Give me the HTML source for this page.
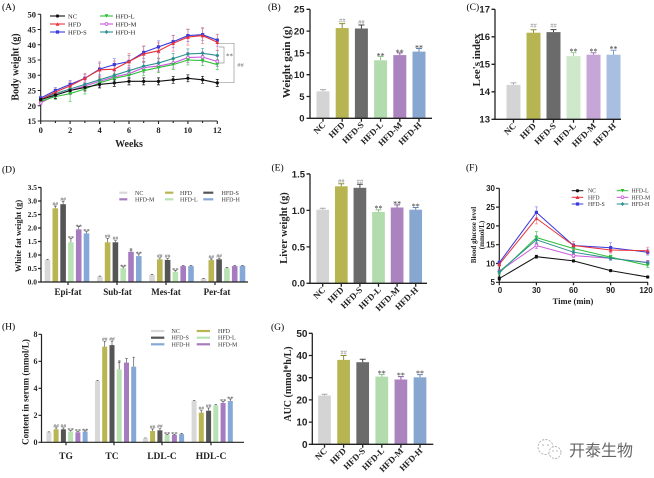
<!DOCTYPE html>
<html><head><meta charset="utf-8">
<style>
html,body{margin:0;padding:0;background:#fff;}
svg{display:block;}
.s{font-family:"Liberation Serif",serif;}
.sb{font-family:"Liberation Serif",serif;font-weight:bold;}
.ab{font-family:"Liberation Sans",sans-serif;font-weight:bold;}
</style></head>
<body>
<svg width="654" height="478" viewBox="0 0 654 478" xmlns="http://www.w3.org/2000/svg">
<defs>
<marker id="mNC" viewBox="0 0 10 10" refX="5" refY="5" markerWidth="3.6" markerHeight="3.6" markerUnits="userSpaceOnUse"><circle cx="5" cy="5" r="4.5" fill="#111"/></marker>
<marker id="mHFD" viewBox="0 0 10 10" refX="5" refY="5" markerWidth="4" markerHeight="4" markerUnits="userSpaceOnUse"><polygon points="5,0.5 9.8,9.3 0.2,9.3" fill="#e8323c"/></marker>
<marker id="mS" viewBox="0 0 10 10" refX="5" refY="5" markerWidth="3.6" markerHeight="3.6" markerUnits="userSpaceOnUse"><rect x="0.5" y="0.5" width="9" height="9" fill="#3b3bdc"/></marker>
<marker id="mL" viewBox="0 0 10 10" refX="5" refY="5" markerWidth="4" markerHeight="4" markerUnits="userSpaceOnUse"><polygon points="0.2,0.7 9.8,0.7 5,9.5" fill="#2fbf3a"/></marker>
<marker id="mM" viewBox="0 0 10 10" refX="5" refY="5" markerWidth="4" markerHeight="4" markerUnits="userSpaceOnUse"><circle cx="5" cy="5" r="3.6" fill="#fff" stroke="#cc55dd" stroke-width="2.2"/></marker>
<marker id="mH" viewBox="0 0 10 10" refX="5" refY="5" markerWidth="4" markerHeight="4" markerUnits="userSpaceOnUse"><polygon points="5,0 10,5 5,10 0,5" fill="#2a8f8f"/></marker>
</defs>

<!-- ================= PANEL A ================= -->
<text class="s" x="2" y="10" font-size="9.5">(A)</text>
<g stroke="#222" stroke-width="1.1" fill="none">
<path d="M40.7,14.3V121H217.3"/>
<path d="M37.7,14.25h3M37.7,29.5h3M37.7,44.75h3M37.7,60h3M37.7,75.25h3M37.7,90.5h3M37.7,105.75h3M37.7,121h3"/>
<path d="M40.7,121v3M55.4,121v2M70.1,121v3M84.9,121v2M99.6,121v3M114.3,121v2M129,121v3M143.7,121v2M158.5,121v3M173.2,121v2M187.9,121v3M202.6,121v2M217.3,121v3"/>
</g>
<g class="sb" font-size="8.5" text-anchor="end" fill="#222">
<text x="36" y="17.4">50</text><text x="36" y="32.7">45</text><text x="36" y="47.9">40</text><text x="36" y="63.2">35</text><text x="36" y="78.4">30</text><text x="36" y="93.7">25</text><text x="36" y="108.9">20</text><text x="36" y="124.2">15</text>
</g>
<g class="sb" font-size="8.5" text-anchor="middle" fill="#222">
<text x="40.7" y="133">0</text><text x="70.1" y="133">2</text><text x="99.6" y="133">4</text><text x="129" y="133">6</text><text x="158.5" y="133">8</text><text x="187.9" y="133">10</text><text x="217.3" y="133">12</text>
</g>
<text class="sb" x="129" y="147" font-size="10" text-anchor="middle" fill="#222">Weeks</text>
<text class="sb" font-size="10" text-anchor="middle" fill="#222" transform="translate(18.5,67) rotate(-90)">Body weight (g)</text>

<g fill="none" stroke-width="0.7">
<path stroke="#cc55dd" opacity="0.8" d="M39.2,100.7h3m-1.5,0V104.7m-1.5,0h3 M53.9,92.1h3m-1.5,0V98.1m-1.5,0h3 M68.6,86.5h3m-1.5,0V94.5m-1.5,0h3 M83.4,80.9h3m-1.5,0V90.9m-1.5,0h3 M98.1,76.35h3m-1.5,0V86.35m-1.5,0h3 M112.8,71.8h3m-1.5,0V81.8m-1.5,0h3 M127.5,68.7h3m-1.5,0V78.7m-1.5,0h3 M142.2,62.6h3m-1.5,0V72.6m-1.5,0h3 M157,61.1h3m-1.5,0V71.1m-1.5,0h3 M171.7,58.05h3m-1.5,0V68.05m-1.5,0h3 M186.4,52.6h3m-1.5,0V62.6m-1.5,0h3 M201.1,52h3m-1.5,0V62m-1.5,0h3 M215.8,56.5h3m-1.5,0V66.5m-1.5,0h3"/>
<path stroke="#2fbf3a" opacity="0.8" d="M39.2,99.2h3m-1.5,0V103.2m-1.5,0h3 M53.9,93.6h3m-1.5,0V99.6m-1.5,0h3 M68.6,85.55h3m-1.5,0V101.55m-1.5,0h3 M83.4,84h3m-1.5,0V94m-1.5,0h3 M98.1,77.9h3m-1.5,0V87.9m-1.5,0h3 M112.8,73.3h3m-1.5,0V83.3m-1.5,0h3 M127.5,70.25h3m-1.5,0V80.25m-1.5,0h3 M142.2,65.7h3m-1.5,0V75.7m-1.5,0h3 M157,62.6h3m-1.5,0V72.6m-1.5,0h3 M171.7,59.6h3m-1.5,0V69.6m-1.5,0h3 M186.4,55h3m-1.5,0V65m-1.5,0h3 M201.1,55.6h3m-1.5,0V65.6m-1.5,0h3 M215.8,59.6h3m-1.5,0V69.6m-1.5,0h3"/>
<path stroke="#2a8f8f" opacity="0.8" d="M39.2,97.65h3m-1.5,0V101.65m-1.5,0h3 M53.9,90.55h3m-1.5,0V96.55m-1.5,0h3 M68.6,85h3m-1.5,0V93m-1.5,0h3 M83.4,79.4h3m-1.5,0V89.4m-1.5,0h3 M98.1,74.8h3m-1.5,0V84.8m-1.5,0h3 M112.8,70.25h3m-1.5,0V80.25m-1.5,0h3 M127.5,65.7h3m-1.5,0V75.7m-1.5,0h3 M142.2,61.1h3m-1.5,0V71.1m-1.5,0h3 M157,58.05h3m-1.5,0V68.05m-1.5,0h3 M171.7,53.5h3m-1.5,0V63.5m-1.5,0h3 M186.4,48.9h3m-1.5,0V58.9m-1.5,0h3 M201.1,48.3h3m-1.5,0V58.3m-1.5,0h3 M215.8,50.4h3m-1.5,0V60.4m-1.5,0h3"/>
<path stroke="#7070f0" opacity="0.8" d="M39.2,96.1h3m-1.5,0V100.1m-1.5,0h3 M53.9,87.5h3m-1.5,0V93.5m-1.5,0h3 M68.6,80.4h3m-1.5,0V88.4m-1.5,0h3 M83.4,74.3h3m-1.5,0V82.3m-1.5,0h3 M98.1,63.15h3m-1.5,0V75.15m-1.5,0h3 M112.8,58.6h3m-1.5,0V70.6m-1.5,0h3 M127.5,55.5h3m-1.5,0V67.5m-1.5,0h3 M142.2,46.4h3m-1.5,0V58.4m-1.5,0h3 M157,40.9h3m-1.5,0V52.9m-1.5,0h3 M171.7,35.7h3m-1.5,0V47.7m-1.5,0h3 M186.4,29.6h3m-1.5,0V41.6m-1.5,0h3 M201.1,28.7h3m-1.5,0V40.7m-1.5,0h3 M215.8,34.2h3m-1.5,0V46.2m-1.5,0h3"/>
<path stroke="#ea6a70" opacity="0.8" d="M39.2,97.65h3m-1.5,0V101.65m-1.5,0h3 M53.9,89h3m-1.5,0V95m-1.5,0h3 M68.6,81.9h3m-1.5,0V89.9m-1.5,0h3 M83.4,73.3h3m-1.5,0V83.3m-1.5,0h3 M98.1,61.8h3m-1.5,0V77.8m-1.5,0h3 M112.8,61.15h3m-1.5,0V77.15m-1.5,0h3 M127.5,53.5h3m-1.5,0V69.5m-1.5,0h3 M142.2,45.9h3m-1.5,0V61.9m-1.5,0h3 M157,42.85h3m-1.5,0V58.85m-1.5,0h3 M171.7,35.2h3m-1.5,0V51.2m-1.5,0h3 M186.4,29.1h3m-1.5,0V45.1m-1.5,0h3 M201.1,27.6h3m-1.5,0V43.6m-1.5,0h3 M215.8,34.3h3m-1.5,0V50.3m-1.5,0h3"/>
<path stroke="#111" d="M39.2,97.65h3m-1.5,0V101.65m-1.5,0h3 M53.9,91.6h3m-1.5,0V98.6m-1.5,0h3 M68.6,87h3m-1.5,0V94m-1.5,0h3 M83.4,83.95h3m-1.5,0V90.95m-1.5,0h3 M98.1,80.9h3m-1.5,0V87.9m-1.5,0h3 M112.8,79.4h3m-1.5,0V86.4m-1.5,0h3 M127.5,77.85h3m-1.5,0V84.85m-1.5,0h3 M142.2,77.85h3m-1.5,0V84.85m-1.5,0h3 M157,77.85h3m-1.5,0V84.85m-1.5,0h3 M171.7,76.3h3m-1.5,0V83.3m-1.5,0h3 M186.4,74.8h3m-1.5,0V81.8m-1.5,0h3 M201.1,76.3h3m-1.5,0V83.3m-1.5,0h3 M215.8,79.4h3m-1.5,0V86.4m-1.5,0h3"/>
</g>
<g fill="none" stroke-width="1.1">
<polyline stroke="#cc55dd" marker-start="url(#mM)" marker-mid="url(#mM)" marker-end="url(#mM)" points="40.7,102.7 55.4,95.1 70.1,90.5 84.9,85.9 99.6,81.35 114.3,76.8 129,73.7 143.7,67.6 158.5,66.1 173.2,63.05 187.9,57.6 202.6,57 217.3,61.5"/>
<polyline stroke="#2fbf3a" marker-start="url(#mL)" marker-mid="url(#mL)" marker-end="url(#mL)" points="40.7,101.2 55.4,96.6 70.1,93.55 84.9,89 99.6,82.9 114.3,78.3 129,75.25 143.7,70.7 158.5,67.6 173.2,64.6 187.9,60 202.6,60.6 217.3,64.6"/>
<polyline stroke="#2a8f8f" marker-start="url(#mH)" marker-mid="url(#mH)" marker-end="url(#mH)" points="40.7,99.65 55.4,93.55 70.1,89 84.9,84.4 99.6,79.8 114.3,75.25 129,70.7 143.7,66.1 158.5,63.05 173.2,58.5 187.9,53.9 202.6,53.3 217.3,55.4"/>
<polyline stroke="#3b3bdc" marker-start="url(#mS)" marker-mid="url(#mS)" marker-end="url(#mS)" points="40.7,98.1 55.4,90.5 70.1,84.4 84.9,78.3 99.6,69.15 114.3,64.6 129,61.5 143.7,52.4 158.5,46.9 173.2,41.7 187.9,35.6 202.6,34.7 217.3,40.2"/>
<polyline stroke="#e8323c" marker-start="url(#mHFD)" marker-mid="url(#mHFD)" marker-end="url(#mHFD)" points="40.7,99.65 55.4,92 70.1,85.9 84.9,78.3 99.6,69.8 114.3,69.15 129,61.5 143.7,53.9 158.5,50.85 173.2,43.2 187.9,37.1 202.6,35.6 217.3,42.3"/>
<polyline stroke="#111" marker-start="url(#mNC)" marker-mid="url(#mNC)" marker-end="url(#mNC)" points="40.7,99.65 55.4,95.1 70.1,90.5 84.9,87.45 99.6,84.4 114.3,82.9 129,81.35 143.7,81.35 158.5,81.35 173.2,79.8 187.9,78.3 202.6,79.8 217.3,82.9"/>
</g>
<g fill="none" stroke="#999" stroke-width="0.7">
<path d="M219,43.3H234V82.7H219"/>
<path d="M219,47H224V63H219"/>
</g>
<text class="s" x="229.5" y="58.5" font-size="7" fill="#555" text-anchor="middle">**</text>
<text class="s" x="240.5" y="67" font-size="6.5" fill="#777" text-anchor="middle">##</text>
<g fill="none" stroke-width="1.1">
<polyline stroke="#111" marker-mid="url(#mNC)" points="50,16 57.5,16 65,16"/>
<polyline stroke="#e8323c" marker-mid="url(#mHFD)" points="50,24 57.5,24 65,24"/>
<polyline stroke="#3b3bdc" marker-mid="url(#mS)" points="50,32 57.5,32 65,32"/>
<polyline stroke="#2fbf3a" marker-mid="url(#mL)" points="100,16 106.5,16 113,16"/>
<polyline stroke="#cc55dd" marker-mid="url(#mM)" points="100,24 106.5,24 113,24"/>
<polyline stroke="#2a8f8f" marker-mid="url(#mH)" points="100,32 106.5,32 113,32"/>
</g>
<g class="s" font-size="6.5" fill="#222">
<text x="68" y="18.3">NC</text><text x="68" y="26.3">HFD</text><text x="68" y="34.3">HFD-S</text>
<text x="115.5" y="18.3">HFD-L</text><text x="115.5" y="26.3">HFD-M</text><text x="115.5" y="34.3">HFD-H</text>
</g>

<!-- ================= PANEL B ================= -->
<text class="s" x="268" y="10" font-size="9.5">(B)</text>
<g>
<rect x="316.5" y="91.3" width="13" height="27" fill="#d4d4d4"/>
<rect x="335.7" y="28.05" width="13" height="90.25" fill="#b7b552"/>
<rect x="354.9" y="28.5" width="13" height="89.8" fill="#6b6b6b"/>
<rect x="374.1" y="60.3" width="13" height="58" fill="#b2dcae"/>
<rect x="393.3" y="55.1" width="13" height="63.2" fill="#aa83bf"/>
<rect x="412.5" y="51.6" width="13" height="66.7" fill="#88a7d0"/>
</g>
<g fill="none" stroke-width="1">
<path stroke="#aaa" d="M323,91.3V89.6m-3,0h6"/>
<path stroke="#8f8d30" d="M342.2,28.05V23.65m-3,0h6"/>
<path stroke="#444" d="M361.4,28.5V25m-3,0h6"/>
<path stroke="#8cbf88" d="M380.6,60.3V56.4m-3,0h6"/>
<path stroke="#8a62a0" d="M399.8,55.1V52.9m-3,0h6"/>
<path stroke="#6688b8" d="M419,51.6V48.5m-3,0h6"/>
</g>
<g stroke="#222" stroke-width="1.3" fill="none">
<path d="M310,9.3V118.3H432"/>
<path d="M306.5,9.3h3.5M306.5,31.1h3.5M306.5,52.9h3.5M306.5,74.7h3.5M306.5,96.5h3.5M306.5,118.3h3.5"/>
<path d="M323,118.3v3.5M342.2,118.3v3.5M361.4,118.3v3.5M380.6,118.3v3.5M399.8,118.3v3.5M419,118.3v3.5"/>
</g>
<g class="ab" font-size="9.5" text-anchor="end" fill="#222">
<text x="304.5" y="12.7">25</text><text x="304.5" y="34.5">20</text><text x="304.5" y="56.3">15</text><text x="304.5" y="78.1">10</text><text x="304.5" y="99.9">5</text><text x="304.5" y="121.7">0</text>
</g>
<text class="sb" font-size="11" text-anchor="middle" fill="#222" transform="translate(290,62) rotate(-90)">Weight gain (g)</text>
<g class="sb" font-size="8.8" text-anchor="end" fill="#222">
<text transform="translate(326,125.5) rotate(-45)">NC</text>
<text transform="translate(345.2,125.5) rotate(-45)">HFD</text>
<text transform="translate(364.4,125.5) rotate(-45)">HFD-S</text>
<text transform="translate(383.6,125.5) rotate(-45)">HFD-L</text>
<text transform="translate(402.8,125.5) rotate(-45)">HFD-M</text>
<text transform="translate(422,125.5) rotate(-45)">HFD-H</text>
</g>
<g class="s" text-anchor="middle">
<text x="342.2" y="22.5" font-size="6.5" fill="#888">##</text>
<text x="361.4" y="24" font-size="6.5" fill="#888">##</text>
<text x="380.6" y="58.5" font-size="8" fill="#333">**</text>
<text x="399.8" y="55" font-size="8" fill="#333">**</text>
<text x="419" y="50.6" font-size="8" fill="#333">**</text>
</g>

<!-- ================= PANEL C ================= -->
<text class="s" x="466.5" y="10" font-size="9.5">(C)</text>
<g>
<rect x="506.5" y="84.9" width="14" height="34.4" fill="#d4d4d4"/>
<rect x="526.5" y="32.7" width="14" height="86.6" fill="#b7b552"/>
<rect x="546.5" y="32.1" width="14" height="87.2" fill="#6b6b6b"/>
<rect x="566.5" y="56.1" width="14" height="63.2" fill="#cfe8cc"/>
<rect x="586.5" y="54.7" width="14" height="64.6" fill="#c5a6d6"/>
<rect x="606.5" y="54.7" width="14" height="64.6" fill="#a8bfe2"/>
</g>
<g fill="none" stroke-width="1">
<path stroke="#aaa" d="M513.5,84.9V82.9m-3,0h6"/>
<path stroke="#8f8d30" d="M533.5,32.7V29.7m-3,0h6"/>
<path stroke="#444" d="M553.5,32.1V29.6m-3,0h6"/>
<path stroke="#9ccc98" d="M573.5,56.1V52.6m-3,0h6"/>
<path stroke="#a07cb5" d="M593.5,54.7V52.7m-3,0h6"/>
<path stroke="#7d9bcb" d="M613.5,54.7V50.2m-3,0h6"/>
</g>
<g stroke="#222" stroke-width="1.3" fill="none">
<path d="M495,9.3V119.3H621"/>
<path d="M491.5,9.3h3.5M491.5,36.8h3.5M491.5,64.3h3.5M491.5,91.8h3.5M491.5,119.3h3.5"/>
<path d="M513.5,119.3v3.5M533.5,119.3v3.5M553.5,119.3v3.5M573.5,119.3v3.5M593.5,119.3v3.5M613.5,119.3v3.5"/>
</g>
<g class="ab" font-size="9.5" text-anchor="end" fill="#222">
<text x="490" y="12.7">17</text><text x="490" y="40.2">16</text><text x="490" y="67.7">15</text><text x="490" y="95.2">14</text><text x="490" y="122.7">13</text>
</g>
<text class="sb" font-size="11" text-anchor="middle" fill="#222" transform="translate(480,60) rotate(-90)">Lee's index</text>
<g class="sb" font-size="8.8" text-anchor="end" fill="#222">
<text transform="translate(516.5,126.5) rotate(-45)">NC</text>
<text transform="translate(536.5,126.5) rotate(-45)">HFD</text>
<text transform="translate(556.5,126.5) rotate(-45)">HFD-S</text>
<text transform="translate(576.5,126.5) rotate(-45)">HFD-L</text>
<text transform="translate(596.5,126.5) rotate(-45)">HFD-M</text>
<text transform="translate(616.5,126.5) rotate(-45)">HFD-H</text>
</g>
<g class="s" text-anchor="middle">
<text x="533.5" y="27.5" font-size="6.5" fill="#888">##</text>
<text x="553.5" y="27.3" font-size="6.5" fill="#888">##</text>
<text x="573.5" y="54" font-size="8" fill="#333">**</text>
<text x="593.5" y="54" font-size="8" fill="#333">**</text>
<text x="613.5" y="51.6" font-size="8" fill="#333">**</text>
</g>

<!-- ================= PANEL D ================= -->
<text class="s" x="2" y="172.5" font-size="9.5">(D)</text>
<g>
<rect x="44.7" y="260.1" width="5.6" height="21.9" fill="#d8d8d8"/>
<rect x="52.5" y="208.3" width="5.6" height="73.7" fill="#b8b552"/>
<rect x="60.3" y="204.2" width="5.6" height="77.8" fill="#555"/>
<rect x="68.1" y="242.3" width="5.6" height="39.7" fill="#b9e2b4"/>
<rect x="75.9" y="229.35" width="5.6" height="52.65" fill="#a67bc0"/>
<rect x="83.7" y="233.4" width="5.6" height="48.6" fill="#86a8d6"/>
<rect x="97" y="276.6" width="5.6" height="5.4" fill="#d8d8d8"/>
<rect x="104.8" y="242.3" width="5.6" height="39.7" fill="#b8b552"/>
<rect x="112.6" y="242.3" width="5.6" height="39.7" fill="#555"/>
<rect x="120.4" y="268.2" width="5.6" height="13.8" fill="#b9e2b4"/>
<rect x="128.2" y="251.8" width="5.6" height="30.2" fill="#a67bc0"/>
<rect x="136" y="256.1" width="5.6" height="25.9" fill="#86a8d6"/>
<rect x="149.2" y="275" width="5.6" height="7" fill="#d8d8d8"/>
<rect x="157" y="259.3" width="5.6" height="22.7" fill="#b8b552"/>
<rect x="164.8" y="259.9" width="5.6" height="22.1" fill="#555"/>
<rect x="172.6" y="271.7" width="5.6" height="10.3" fill="#b9e2b4"/>
<rect x="180.4" y="266.1" width="5.6" height="15.9" fill="#a67bc0"/>
<rect x="188.2" y="266.1" width="5.6" height="15.9" fill="#86a8d6"/>
<rect x="200.7" y="278.8" width="5.6" height="3.2" fill="#d8d8d8"/>
<rect x="208.5" y="260.1" width="5.6" height="21.9" fill="#b8b552"/>
<rect x="216.3" y="259.3" width="5.6" height="22.7" fill="#555"/>
<rect x="224.1" y="268.2" width="5.6" height="13.8" fill="#b9e2b4"/>
<rect x="231.9" y="266.1" width="5.6" height="15.9" fill="#a67bc0"/>
<rect x="239.7" y="265.8" width="5.6" height="16.2" fill="#86a8d6"/>
</g>
<path fill="none" stroke="#555" stroke-width="0.7" d="M47.5,260.1V259.3m-1.3,0h2.6 M55.3,208.3V206.1m-1.3,0h2.6 M63.1,204.2V201.5m-1.3,0h2.6 M70.9,242.3V238.3m-1.3,0h2.6 M78.7,229.35V226.65m-1.3,0h2.6 M86.5,233.4V231.2m-1.3,0h2.6 M99.8,276.6V276.1m-1.3,0h2.6 M107.6,242.3V238.3m-1.3,0h2.6 M115.4,242.3V240.7m-1.3,0h2.6 M123.2,268.2V266.85m-1.3,0h2.6 M131,251.8V250.2m-1.3,0h2.6 M138.8,256.1V253.9m-1.3,0h2.6 M152,275V274.5m-1.3,0h2.6 M159.8,259.3V257.95m-1.3,0h2.6 M167.6,259.9V258.55m-1.3,0h2.6 M175.4,271.7V270.35m-1.3,0h2.6 M183.2,266.1V265.6m-1.3,0h2.6 M191,266.1V265.6m-1.3,0h2.6 M203.5,278.8V278.5m-1.3,0h2.6 M211.3,260.1V259m-1.3,0h2.6 M219.1,259.3V258.2m-1.3,0h2.6 M226.9,268.2V267.4m-1.3,0h2.6 M234.7,266.1V265.6m-1.3,0h2.6 M242.5,265.8V265.3m-1.3,0h2.6"/>
<g stroke="#222" stroke-width="1.2" fill="none">
<path d="M41,187.3V282H248"/>
<path d="M38,282h3M38,268.5h3M38,255h3M38,241.5h3M38,228h3M38,214.5h3M38,201h3M38,187.5h3"/>
<path d="M68,282v3M117,282v3M166,282v3M215,282v3"/>
</g>
<g class="sb" font-size="7.5" text-anchor="end" fill="#222">
<text x="37" y="284.6">0.0</text><text x="37" y="271.1">0.5</text><text x="37" y="257.6">1.0</text><text x="37" y="244.1">1.5</text><text x="37" y="230.6">2.0</text><text x="37" y="217.1">2.5</text><text x="37" y="203.6">3.0</text><text x="37" y="190.1">3.5</text>
</g>
<text class="sb" font-size="8.5" text-anchor="middle" fill="#222" transform="translate(21,236) rotate(-90)">White fat weight (g)</text>
<g class="sb" font-size="9" text-anchor="middle" fill="#222">
<text x="68" y="295">Epi-fat</text><text x="117.5" y="295">Sub-fat</text><text x="166" y="295">Mes-fat</text><text x="217" y="295">Per-fat</text>
</g>
<g class="s" text-anchor="middle" fill="#444">
<text x="55.3" y="205.5" font-size="5.5">##</text><text x="63.1" y="201" font-size="5.5">##</text>
<text x="70.9" y="240" font-size="6.5">**</text><text x="78.7" y="228.3" font-size="6.5">**</text><text x="86.5" y="232.8" font-size="6.5">**</text>
<text x="107.6" y="237.8" font-size="5.5">##</text><text x="115.4" y="240.2" font-size="5.5">##</text>
<text x="123.2" y="268.5" font-size="6.5">**</text><text x="131" y="251.8" font-size="6.5">*</text><text x="138.8" y="255.5" font-size="6.5">**</text>
<text x="159.8" y="257.5" font-size="5.5">##</text><text x="167.6" y="258" font-size="5.5">##</text>
<text x="175.4" y="272" font-size="6.5">**</text>
<text x="211.3" y="258.5" font-size="5.5">##</text><text x="219.1" y="257.7" font-size="5.5">##</text>
</g>
<g stroke-width="2.2">
<line x1="119.3" y1="192.7" x2="127.3" y2="192.7" stroke="#d8d8d8"/>
<line x1="165" y1="192.7" x2="173.3" y2="192.7" stroke="#b8b552"/>
<line x1="203.3" y1="192.7" x2="213.3" y2="192.7" stroke="#555"/>
<line x1="119.3" y1="199.3" x2="127.3" y2="199.3" stroke="#a67bc0"/>
<line x1="165" y1="199.3" x2="173.3" y2="199.3" stroke="#b9e2b4"/>
<line x1="203.3" y1="199.3" x2="213.3" y2="199.3" stroke="#86a8d6"/>
</g>
<g class="s" font-size="6" fill="#333">
<text x="135" y="194.8">NC</text><text x="180" y="194.8">HFD</text><text x="221.5" y="194.8">HFD-S</text>
<text x="135" y="201.4">HFD-M</text><text x="180" y="201.4">HFD-L</text><text x="221.5" y="201.4">HFD-H</text>
</g>

<!-- ================= PANEL E ================= -->
<text class="s" x="271.5" y="170.5" font-size="9.5">(E)</text>
<g>
<rect x="316.35" y="209.7" width="12.7" height="73.6" fill="#d4d4d4"/>
<rect x="334.95" y="186.3" width="12.7" height="97" fill="#b7b552"/>
<rect x="353.55" y="187.8" width="12.7" height="95.5" fill="#6b6b6b"/>
<rect x="372.15" y="211.9" width="12.7" height="71.4" fill="#b2dcae"/>
<rect x="390.75" y="207.5" width="12.7" height="75.8" fill="#aa83bf"/>
<rect x="409.35" y="209.7" width="12.7" height="73.6" fill="#88a7d0"/>
</g>
<g fill="none" stroke-width="1">
<path stroke="#aaa" d="M322.7,209.7V208.2m-3,0h6"/>
<path stroke="#8f8d30" d="M341.3,186.3V183.8m-3,0h6"/>
<path stroke="#444" d="M359.9,187.8V184.2m-3,0h6"/>
<path stroke="#8cbf88" d="M378.5,211.9V209.7m-3,0h6"/>
<path stroke="#8a62a0" d="M397.1,207.5V204.9m-3,0h6"/>
<path stroke="#6688b8" d="M415.7,209.7V207.5m-3,0h6"/>
</g>
<g stroke="#222" stroke-width="1.3" fill="none">
<path d="M310,173.95V283.3H427"/>
<path d="M306.5,173.95h3.5M306.5,210.4h3.5M306.5,246.85h3.5M306.5,283.3h3.5"/>
<path d="M322.7,283.3v3.5M341.3,283.3v3.5M359.9,283.3v3.5M378.5,283.3v3.5M397.1,283.3v3.5M415.7,283.3v3.5"/>
</g>
<g class="ab" font-size="9.5" text-anchor="end" fill="#222">
<text x="305" y="177.35">1.5</text><text x="305" y="213.8">1.0</text><text x="305" y="250.25">0.5</text><text x="305" y="286.7">0.0</text>
</g>
<text class="sb" font-size="10.5" text-anchor="middle" fill="#222" transform="translate(287,228) rotate(-90)">Liver weight (g)</text>
<g class="sb" font-size="8.8" text-anchor="end" fill="#222">
<text transform="translate(325.7,290.5) rotate(-45)">NC</text>
<text transform="translate(344.3,290.5) rotate(-45)">HFD</text>
<text transform="translate(362.9,290.5) rotate(-45)">HFD-S</text>
<text transform="translate(381.5,290.5) rotate(-45)">HFD-L</text>
<text transform="translate(400.1,290.5) rotate(-45)">HFD-M</text>
<text transform="translate(418.7,290.5) rotate(-45)">HFD-H</text>
</g>
<g class="s" text-anchor="middle">
<text x="341.3" y="183" font-size="6.5" fill="#888">##</text>
<text x="359.9" y="183.5" font-size="6.5" fill="#888">##</text>
<text x="378.5" y="211" font-size="8" fill="#333">**</text>
<text x="397.1" y="206.3" font-size="8" fill="#333">**</text>
<text x="415.7" y="208.8" font-size="8" fill="#333">**</text>
</g>

<!-- ================= PANEL F ================= -->
<text class="s" x="466" y="170.5" font-size="9.5">(F)</text>
<g stroke="#222" stroke-width="1.2" fill="none">
<path d="M499.3,188.3V282.3H648"/>
<path d="M496,188.3h3.3M496,207.1h3.3M496,225.9h3.3M496,244.7h3.3M496,263.5h3.3M496,282.3h3.3"/>
<path d="M499.3,282.3v3M536.4,282.3v3M573.5,282.3v3M610.6,282.3v3M647.7,282.3v3"/>
</g>
<g class="ab" font-size="8" text-anchor="end" fill="#222">
<text x="495" y="191.2">30</text><text x="495" y="210">25</text><text x="495" y="228.8">20</text><text x="495" y="247.6">15</text><text x="495" y="266.4">10</text><text x="495" y="285.2">5</text>
</g>
<g class="ab" font-size="8" text-anchor="middle" fill="#222">
<text x="500" y="293">0</text><text x="536.4" y="293">30</text><text x="573.5" y="293">60</text><text x="610.6" y="293">90</text><text x="646" y="293">120</text>
</g>
<text class="sb" x="573" y="304" font-size="8.5" text-anchor="middle" fill="#222">Time (min)</text>
<text class="sb" font-size="7" text-anchor="middle" fill="#222" transform="translate(476,235) rotate(-90)">Blood glucose level</text>
<text class="sb" font-size="7" text-anchor="middle" fill="#222" transform="translate(484,235) rotate(-90)">(mmol/L)</text>
<g fill="none" stroke-width="0.7">
<path stroke="#cc55dd" opacity="0.8" d="M497.8,269.4h3m-1.5,0V273.4m-1.5,0h3 M534.9,242.5h3m-1.5,0V248.5m-1.5,0h3 M572,253.6h3m-1.5,0V257.6m-1.5,0h3 M609.1,256.2h3m-1.5,0V260.2m-1.5,0h3 M646.2,260.4h3m-1.5,0V264.4m-1.5,0h3"/>
<path stroke="#2fbf3a" opacity="0.8" d="M497.8,270.9h3m-1.5,0V274.9m-1.5,0h3 M534.9,231.6h3m-1.5,0V243.6m-1.5,0h3 M572,246.5h3m-1.5,0V250.5m-1.5,0h3 M609.1,255.1h3m-1.5,0V259.1m-1.5,0h3 M646.2,263.4h3m-1.5,0V267.4m-1.5,0h3"/>
<path stroke="#2a8f8f" opacity="0.8" d="M497.8,269.8h3m-1.5,0V273.8m-1.5,0h3 M534.9,235.8h3m-1.5,0V243.8m-1.5,0h3 M572,250.2h3m-1.5,0V254.2m-1.5,0h3 M609.1,256.2h3m-1.5,0V260.2m-1.5,0h3 M646.2,260.7h3m-1.5,0V264.7m-1.5,0h3"/>
<path stroke="#7070f0" opacity="0.8" d="M497.8,260.7h3m-1.5,0V264.7m-1.5,0h3 M534.9,206.9h3m-1.5,0V217.9m-1.5,0h3 M572,243.5h3m-1.5,0V247.5m-1.5,0h3 M609.1,242.7h3m-1.5,0V252.7m-1.5,0h3 M646.2,249.2h3m-1.5,0V255.2m-1.5,0h3"/>
<path stroke="#ea6a70" opacity="0.8" d="M497.8,262.3h3m-1.5,0V266.3m-1.5,0h3 M534.9,212.9h3m-1.5,0V223.9m-1.5,0h3 M572,241.5h3m-1.5,0V249.5m-1.5,0h3 M609.1,247h3m-1.5,0V253m-1.5,0h3 M646.2,247.2h3m-1.5,0V254.2m-1.5,0h3"/>
<path stroke="#111" d="M497.8,277h3m-1.5,0V280m-1.5,0h3 M534.9,255.2h3m-1.5,0V258.2m-1.5,0h3 M572,259.9h3m-1.5,0V261.9m-1.5,0h3 M609.1,269.6h3m-1.5,0V271.6m-1.5,0h3 M646.2,276h3m-1.5,0V278m-1.5,0h3"/>
</g>
<g fill="none" stroke-width="1">
<polyline stroke="#cc55dd" marker-start="url(#mM)" marker-mid="url(#mM)" marker-end="url(#mM)" points="499.3,271.4 536.4,245.5 573.5,255.6 610.6,258.2 647.7,262.4"/>
<polyline stroke="#2fbf3a" marker-start="url(#mL)" marker-mid="url(#mL)" marker-end="url(#mL)" points="499.3,272.9 536.4,237.6 573.5,248.5 610.6,257.1 647.7,265.4"/>
<polyline stroke="#2a8f8f" marker-start="url(#mH)" marker-mid="url(#mH)" marker-end="url(#mH)" points="499.3,271.8 536.4,239.8 573.5,252.2 610.6,258.2 647.7,262.7"/>
<polyline stroke="#3b3bdc" marker-start="url(#mS)" marker-mid="url(#mS)" marker-end="url(#mS)" points="499.3,262.7 536.4,212.4 573.5,245.5 610.6,247.7 647.7,252.2"/>
<polyline stroke="#e8323c" marker-start="url(#mHFD)" marker-mid="url(#mHFD)" marker-end="url(#mHFD)" points="499.3,264.3 536.4,218.4 573.5,245.5 610.6,250 647.7,250.7"/>
<polyline stroke="#111" marker-start="url(#mNC)" marker-mid="url(#mNC)" marker-end="url(#mNC)" points="499.3,278.5 536.4,256.7 573.5,260.9 610.6,270.6 647.7,277"/>
</g>
<g fill="none" stroke-width="1">
<polyline stroke="#111" marker-mid="url(#mNC)" points="571.7,190.7 577.5,190.7 583.3,190.7"/>
<polyline stroke="#e8323c" marker-mid="url(#mHFD)" points="571.7,197.3 577.5,197.3 583.3,197.3"/>
<polyline stroke="#3b3bdc" marker-mid="url(#mS)" points="571.7,204 577.5,204 583.3,204"/>
<polyline stroke="#2fbf3a" marker-mid="url(#mL)" points="616.7,190.7 622.5,190.7 628.3,190.7"/>
<polyline stroke="#cc55dd" marker-mid="url(#mM)" points="616.7,197.3 622.5,197.3 628.3,197.3"/>
<polyline stroke="#2a8f8f" marker-mid="url(#mH)" points="616.7,204 622.5,204 628.3,204"/>
</g>
<g class="s" font-size="5.8" fill="#333">
<text x="588" y="192.7">NC</text><text x="588" y="199.3">HFD</text><text x="588" y="206">HFD-S</text>
<text x="631.5" y="192.7">HFD-L</text><text x="631.5" y="199.3">HFD-M</text><text x="631.5" y="206">HFD-H</text>
</g>

<!-- ================= PANEL H ================= -->
<text class="s" x="2" y="329.5" font-size="9.5">(H)</text>
<g>
<rect x="46.4" y="432.3" width="5" height="10" fill="#d8d8d8"/>
<rect x="53.6" y="429.3" width="5" height="13" fill="#b8b552"/>
<rect x="60.9" y="429.3" width="5" height="13" fill="#555"/>
<rect x="68.1" y="431.6" width="5" height="10.7" fill="#b9e2b4"/>
<rect x="75.4" y="432.3" width="5" height="10" fill="#a67bc0"/>
<rect x="82.6" y="431.6" width="5" height="10.7" fill="#86a8d6"/>
<rect x="95" y="381" width="5" height="61.3" fill="#d8d8d8"/>
<rect x="102.2" y="346.7" width="5" height="95.6" fill="#b8b552"/>
<rect x="109.5" y="345.1" width="5" height="97.2" fill="#555"/>
<rect x="116.7" y="369.4" width="5" height="72.9" fill="#b9e2b4"/>
<rect x="124" y="362.6" width="5" height="79.7" fill="#a67bc0"/>
<rect x="131.2" y="366.7" width="5" height="75.6" fill="#86a8d6"/>
<rect x="142.9" y="438.25" width="5" height="4.05" fill="#d8d8d8"/>
<rect x="150.1" y="431" width="5" height="11.3" fill="#b8b552"/>
<rect x="157.4" y="430.3" width="5" height="12" fill="#555"/>
<rect x="164.6" y="435" width="5" height="7.3" fill="#b9e2b4"/>
<rect x="171.9" y="435" width="5" height="7.3" fill="#a67bc0"/>
<rect x="179.1" y="434.1" width="5" height="8.2" fill="#86a8d6"/>
<rect x="191.6" y="401" width="5" height="41.3" fill="#d8d8d8"/>
<rect x="198.8" y="412.7" width="5" height="29.6" fill="#b8b552"/>
<rect x="206.1" y="410.7" width="5" height="31.6" fill="#555"/>
<rect x="213.3" y="405.3" width="5" height="37" fill="#b9e2b4"/>
<rect x="220.6" y="403" width="5" height="39.3" fill="#a67bc0"/>
<rect x="227.8" y="401" width="5" height="41.3" fill="#86a8d6"/>
</g>
<path fill="none" stroke="#555" stroke-width="0.7" d="M48.9,432.3V431.9m-1.2,0h2.4 M56.1,429.3V427.95m-1.2,0h2.4 M63.4,429.3V427.95m-1.2,0h2.4 M70.6,431.6V430.5m-1.2,0h2.4 M77.9,432.3V431.6m-1.2,0h2.4 M85.1,431.6V430.9m-1.2,0h2.4 M97.5,381V380.3m-1.2,0h2.4 M104.7,346.7V341.3m-1.2,0h2.4 M112,345.1V341.1m-1.2,0h2.4 M119.2,369.4V362.65m-1.2,0h2.4 M126.5,362.6V358.6m-1.2,0h2.4 M133.7,366.7V357.2m-1.2,0h2.4 M145.4,438.25V437.95m-1.2,0h2.4 M152.6,431V429m-1.2,0h2.4 M159.9,430.3V428.7m-1.2,0h2.4 M167.1,435V434.3m-1.2,0h2.4 M174.4,435V434.3m-1.2,0h2.4 M181.6,434.1V433.4m-1.2,0h2.4 M194.1,401V400.3m-1.2,0h2.4 M201.3,412.7V410.7m-1.2,0h2.4 M208.6,410.7V408m-1.2,0h2.4 M215.8,405.3V404.6m-1.2,0h2.4 M223.1,403V401.65m-1.2,0h2.4 M230.3,401V399m-1.2,0h2.4"/>
<g stroke="#222" stroke-width="1.2" fill="none">
<path d="M41.5,334.3V442.3H244"/>
<path d="M38.5,334.3h3M38.5,361.3h3M38.5,388.3h3M38.5,415.3h3M38.5,442.3h3"/>
<path d="M66,442.3v3M114,442.3v3M162,442.3v3M211,442.3v3"/>
</g>
<g class="sb" font-size="8" text-anchor="end" fill="#222">
<text x="37.5" y="337.1">8</text><text x="37.5" y="364.1">6</text><text x="37.5" y="391.1">4</text><text x="37.5" y="418.1">2</text><text x="37.5" y="445.1">0</text>
</g>
<text class="sb" font-size="9" text-anchor="middle" fill="#222" transform="translate(28.5,392) rotate(-90)">Content in serum (mmol/L)</text>
<g class="sb" font-size="9.5" text-anchor="middle" fill="#222">
<text x="66" y="459">TG</text><text x="112" y="459">TC</text><text x="162" y="459">LDL-C</text><text x="211" y="459">HDL-C</text>
</g>
<g class="s" text-anchor="middle" fill="#444">
<text x="56.1" y="427.4" font-size="5.5">##</text><text x="63.4" y="427.4" font-size="5.5">##</text>
<text x="70.6" y="432" font-size="6.5">**</text><text x="77.9" y="433" font-size="6.5">**</text><text x="85.1" y="432.4" font-size="6.5">**</text>
<text x="104.7" y="340.8" font-size="5.5">##</text><text x="112" y="340.6" font-size="5.5">##</text>
<text x="119.2" y="364" font-size="6.5">*</text>
<text x="152.6" y="428.5" font-size="5.5">##</text><text x="159.9" y="428.2" font-size="5.5">##</text>
<text x="167.1" y="435.8" font-size="6.5">**</text><text x="174.4" y="435.8" font-size="6.5">**</text>
<text x="201.3" y="410.2" font-size="5.5">##</text><text x="208.6" y="407.5" font-size="5.5">##</text>
<text x="223.1" y="403" font-size="6.5">**</text><text x="230.3" y="400.4" font-size="6.5">**</text>
</g>
<g stroke-width="2.2">
<line x1="151" y1="331" x2="164.3" y2="331" stroke="#d8d8d8"/>
<line x1="196.7" y1="331" x2="210" y2="331" stroke="#b8b552"/>
<line x1="151" y1="337.7" x2="164.3" y2="337.7" stroke="#555"/>
<line x1="196.7" y1="337.7" x2="210" y2="337.7" stroke="#b9e2b4"/>
<line x1="151" y1="344.3" x2="164.3" y2="344.3" stroke="#86a8d6"/>
<line x1="196.7" y1="344.3" x2="210" y2="344.3" stroke="#a67bc0"/>
</g>
<g class="s" font-size="6" fill="#333">
<text x="171.5" y="333">NC</text><text x="218" y="333">HFD</text>
<text x="171.5" y="339.7">HFD-S</text><text x="218" y="339.7">HFD-L</text>
<text x="171.5" y="346.3">HFD-H</text><text x="218" y="346.3">HFD-M</text>
</g>

<!-- ================= PANEL G ================= -->
<text class="s" x="271" y="330" font-size="9.5">(G)</text>
<g>
<rect x="318.15" y="395.5" width="12.7" height="48.8" fill="#d4d4d4"/>
<rect x="337.25" y="359.9" width="12.7" height="84.4" fill="#b7b552"/>
<rect x="356.35" y="362.2" width="12.7" height="82.1" fill="#6b6b6b"/>
<rect x="375.45" y="376.6" width="12.7" height="67.7" fill="#b2dcae"/>
<rect x="394.55" y="379.5" width="12.7" height="64.8" fill="#aa83bf"/>
<rect x="413.65" y="377.3" width="12.7" height="67" fill="#88a7d0"/>
</g>
<g fill="none" stroke-width="1">
<path stroke="#aaa" d="M324.5,395.5V394.2m-3,0h6"/>
<path stroke="#8f8d30" d="M343.6,359.9V355.5m-3,0h6"/>
<path stroke="#444" d="M362.7,362.2V359.3m-3,0h6"/>
<path stroke="#8cbf88" d="M381.8,376.6V374.4m-3,0h6"/>
<path stroke="#8a62a0" d="M400.9,379.5V376.6m-3,0h6"/>
<path stroke="#6688b8" d="M420,377.3V374.6m-3,0h6"/>
</g>
<g stroke="#222" stroke-width="1.3" fill="none">
<path d="M312.3,333.3V444.3H433.3"/>
<path d="M308.8,333.3h3.5M308.8,355.5h3.5M308.8,377.7h3.5M308.8,399.9h3.5M308.8,422.1h3.5M308.8,444.3h3.5"/>
<path d="M324.5,444.3v3.5M343.6,444.3v3.5M362.7,444.3v3.5M381.8,444.3v3.5M400.9,444.3v3.5M420,444.3v3.5"/>
</g>
<g class="ab" font-size="10" text-anchor="end" fill="#222">
<text x="307.5" y="336.9">50</text><text x="307.5" y="359.1">40</text><text x="307.5" y="381.3">30</text><text x="307.5" y="403.5">20</text><text x="307.5" y="425.7">10</text><text x="307.5" y="447.9">0</text>
</g>
<text class="sb" font-size="10" text-anchor="middle" fill="#222" transform="translate(291,384) rotate(-90)">AUC (mmol*h/L)</text>
<g class="sb" font-size="8.8" text-anchor="end" fill="#222">
<text transform="translate(327.5,451.5) rotate(-45)">NC</text>
<text transform="translate(346.6,451.5) rotate(-45)">HFD</text>
<text transform="translate(365.7,451.5) rotate(-45)">HFD-S</text>
<text transform="translate(384.8,451.5) rotate(-45)">HFD-L</text>
<text transform="translate(403.9,451.5) rotate(-45)">HFD-M</text>
<text transform="translate(423,451.5) rotate(-45)">HFD-H</text>
</g>
<g class="s" text-anchor="middle">
<text x="343.6" y="354.5" font-size="6.5" fill="#888">##</text>
<text x="381.8" y="376" font-size="8" fill="#333">**</text>
<text x="400.9" y="378" font-size="8" fill="#333">**</text>
<text x="420" y="376" font-size="8" fill="#333">**</text>
</g>

<!-- ================= Watermark ================= -->
<g fill="none" stroke="#b0b0b0" stroke-width="0.9">
<circle cx="545.5" cy="447" r="7.5" stroke-dasharray="2.2 1.3"/>
<circle cx="555" cy="452.5" r="6" fill="#fff" stroke-dasharray="2.2 1.3"/>
</g>
<circle cx="543" cy="445" r="0.8" fill="#aaa"/><circle cx="548" cy="445" r="0.8" fill="#aaa"/>
<circle cx="553" cy="451" r="0.7" fill="#aaa"/><circle cx="557" cy="451" r="0.7" fill="#aaa"/>
<text x="569" y="456" font-family="'Liberation Sans','Noto Sans CJK SC',sans-serif" font-size="16" fill="#666">开泰生物</text>
</svg>
</body></html>
